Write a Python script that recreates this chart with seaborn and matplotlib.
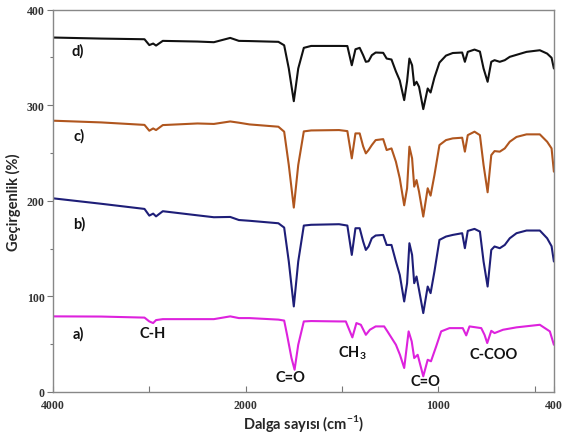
import numpy as np
import pandas as pd
import matplotlib
matplotlib.use("Agg")
import matplotlib.pyplot as plt
import seaborn as sns
from matplotlib.ticker import FixedLocator

# wavenumber grid for curves b, c, d (cm-1)
wn_bcd = [4000, 3500, 3050, 3000, 2960, 2930, 2860, 2500, 2330, 2160, 2070, 1980,
          1830, 1800, 1776, 1750, 1727, 1698, 1660, 1515, 1472, 1449, 1430, 1408,
          1390, 1376, 1362, 1345, 1325, 1286, 1268, 1243, 1220, 1200, 1177, 1162,
          1150, 1136, 1125, 1113, 1100, 1078, 1055, 1040, 1020, 994, 960, 925,
          876, 862, 847, 812, 784, 765, 744, 725, 708, 681, 655, 629, 594, 542,
          473, 435, 412, 400]

t_d = [370.8, 369.7, 369.0, 362.9, 364.5, 362.4, 367.3, 366.6, 365.9, 370.4, 367.3, 367.1,
       366.3, 362.7, 338.4, 304.2, 338.4, 360.0, 362.0, 362.0, 361.9, 341.8, 358.5, 360.0,
       352.3, 345.4, 346.0, 352.3, 355.1, 354.8, 348.8, 347.8, 335.3, 325.9, 305.3, 325.0,
       348.8, 341.8, 320.9, 324.5, 319.3, 295.9, 317.5, 313.3, 328.9, 344.6, 351.9, 354.6,
       355.1, 345.4, 355.8, 358.2, 356.1, 338.4, 324.5, 345.4, 347.1, 345.4, 347.1, 350.6,
       352.7, 355.8, 357.5, 354.0, 349.6, 338.4]

t_c = [283.8, 282.0, 279.4, 273.3, 275.7, 274.0, 279.2, 280.9, 280.4, 283.0, 281.7, 279.9,
       277.5, 272.3, 237.4, 192.9, 237.4, 272.6, 273.6, 274.0, 272.9, 244.4, 270.5, 270.5,
       256.9, 249.6, 253.1, 258.3, 263.5, 264.5, 253.1, 254.8, 240.9, 223.5, 195.3, 213.1,
       256.6, 244.4, 214.8, 221.7, 209.6, 183.5, 213.1, 205.4, 226.9, 258.3, 263.5, 265.3,
       266.0, 251.4, 268.7, 272.3, 268.7, 237.4, 208.9, 247.8, 252.0, 251.4, 254.8, 261.8,
       266.8, 269.5, 269.5, 261.8, 254.8, 230.5]

t_b = [202.6, 196.9, 191.5, 184.5, 186.6, 183.7, 189.1, 184.8, 182.8, 183.1, 179.9, 179.1,
       176.5, 172.0, 136.5, 89.5, 136.5, 174.1, 174.9, 175.5, 174.1, 143.4, 171.3, 171.3,
       157.4, 148.6, 152.2, 160.8, 163.7, 164.3, 153.8, 153.8, 136.5, 122.5, 94.7, 113.8,
       155.6, 143.4, 113.8, 120.8, 106.9, 82.5, 110.3, 103.4, 126.1, 159.1, 162.6, 164.3,
       166.1, 150.4, 168.5, 170.6, 167.8, 136.5, 110.3, 148.6, 152.2, 150.4, 153.8, 160.8,
       166.1, 168.9, 168.9, 160.8, 152.5, 136.5]

# curve a has its own grid
wn_a = [4000, 3500, 3050, 3000, 2960, 2930, 2860, 2500, 2330, 2160, 2070, 1980,
        1830, 1800, 1785, 1762, 1746, 1727, 1698, 1660, 1515, 1480, 1446, 1425,
        1402, 1376, 1355, 1325, 1281, 1264, 1220, 1199, 1177, 1154, 1138, 1125,
        1107, 1078, 1055, 1038, 1011, 985, 942, 873, 855, 838, 777, 760, 746,
        725, 708, 664, 594, 473, 421, 400]
t_a = [79.1, 78.9, 77.8, 73.8, 72.1, 75.2, 76.2, 76.2, 76.2, 79.1, 77.3, 77.3,
       75.7, 74.7, 59.8, 35.5, 23.3, 49.4, 73.8, 74.2, 73.8, 73.8, 57.1, 72.1,
       70.3, 59.8, 65.1, 68.6, 68.6, 63.4, 49.4, 38.9, 25.1, 63.4, 52.9, 35.5,
       38.9, 16.4, 33.7, 32.1, 47.7, 63.4, 66.8, 66.8, 59.2, 68.6, 66.8, 59.8, 51.2,
       64.0, 61.6, 65.1, 67.6, 70.3, 63.4, 49.4]

curve_labels = ["d)", "c)", "b)", "a)"]
label_pos = [(3746, 357.5), (3732, 268.7), (3732, 176.5), (3742, 61.6)]
band_labels = ["C-H", "C=O", "CH$_3$", "C=O", "C-COO"]
band_pos = [(2969, 61.6), (1767, 15.4), (1446, 41.8), (1067, 11.8), (713, 39.7)]

colors = {"d": "#111111", "c": "#B0561E", "b": "#1E1E78", "a": "#DD22DD"}

sns.set_theme(style="white")
plt.rcParams["font.family"] = ["Lato", "DejaVu Sans"]
plt.rcParams["mathtext.fontset"] = "custom"
plt.rcParams["mathtext.rm"] = "Lato:bold"
plt.rcParams["mathtext.bf"] = "Lato:bold"

fig = plt.figure(figsize=(5.66, 4.35), dpi=100)
ax = fig.add_axes([0.0936, 0.0966, 0.885, 0.879])

frames = [
    pd.DataFrame({"wn": wn_bcd, "T": t_d, "s": "d"}),
    pd.DataFrame({"wn": wn_bcd, "T": t_c, "s": "c"}),
    pd.DataFrame({"wn": wn_bcd, "T": t_b, "s": "b"}),
    pd.DataFrame({"wn": wn_a, "T": t_a, "s": "a"}),
]
for df in frames:
    s = df["s"].iloc[0]
    sns.lineplot(data=df, x="wn", y="T", ax=ax, color=colors[s], lw=1.5,
                 estimator=None, sort=False, legend=False)


def fwd(x):
    x = np.asarray(x, dtype=float)
    return np.where(x > 2000, 2000 + (x - 2000) / 2.0, x)


def inv(t):
    t = np.asarray(t, dtype=float)
    return np.where(t > 2000, 2000 + (t - 2000) * 2.0, t)


ax.set_xscale("function", functions=(fwd, inv))
ax.set_xlim(4000, 400)
ax.set_ylim(0, 400)

ax.xaxis.set_major_locator(FixedLocator([4000, 2000, 1000, 400]))
ax.xaxis.set_minor_locator(FixedLocator([3000, 1500, 500]))
ax.yaxis.set_major_locator(FixedLocator([0, 100, 200, 300, 400]))
ax.yaxis.set_minor_locator(FixedLocator([50, 150, 250, 350]))
ax.set_xticklabels(["4000", "2000", "1000", "400"])
ax.set_yticklabels(["0", "100", "200", "300", "400"])

for lab in ax.get_xticklabels() + ax.get_yticklabels():
    lab.set_fontfamily("Liberation Serif")
    lab.set_fontweight("bold")
    lab.set_fontsize(8.5)
    lab.set_color("#333333")

ax.tick_params(axis="x", which="major", direction="in", length=4, width=0.8,
               color="#777777", pad=5, bottom=True)
ax.tick_params(axis="x", which="minor", direction="in", length=4, width=0.8,
               color="#777777", bottom=True)
ax.tick_params(axis="y", which="major", direction="out", length=4, width=0.8,
               color="#777777", pad=2, left=True)
ax.tick_params(axis="y", which="minor", direction="out", length=2, width=0.8,
               color="#777777", left=True)

for sp in ax.spines.values():
    sp.set_visible(True)
    sp.set_color("#888888")
    sp.set_linewidth(1.0)

ax.set_xlabel(r"Dalga sayısı (cm$^{-1}$)", fontsize=10.5, fontweight="bold",
              labelpad=1)
ax.set_ylabel("Geçirgenlik (%)", fontsize=10.5, fontweight="bold", labelpad=4)

for txt, (x, y) in zip(curve_labels, label_pos):
    ax.text(x, y, txt, fontsize=10.5, fontweight="bold", ha="center",
            va="center", color="#111111")
for txt, (x, y) in zip(band_labels, band_pos):
    ax.text(x, y, txt, fontsize=10.5, fontweight="bold", ha="center",
            va="center", color="#111111")

fig.savefig("out.png", dpi=100)
